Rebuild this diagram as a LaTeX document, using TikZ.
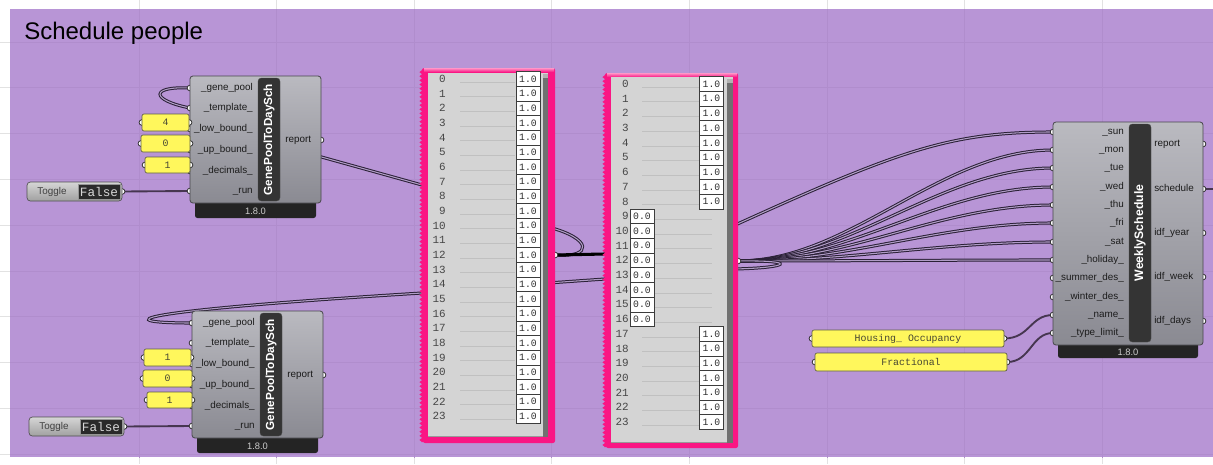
\documentclass[tikz,border=0pt]{standalone}
\usepackage{fontspec}
\setmainfont{Liberation Sans}
\newfontfamily\monof{Liberation Mono}
\usetikzlibrary{fit,decorations.pathmorphing}
\pgfdeclarelayer{back}
\pgfdeclarelayer{wirelayer}
\pgfsetlayers{back,wirelayer,main}
\definecolor{grpc}{RGB}{184,149,214}
\definecolor{gridw}{RGB}{226,226,226}
\definecolor{gridp}{RGB}{176,141,205}
\definecolor{comptop}{RGB}{186,186,192}
\definecolor{compbot}{RGB}{138,138,146}
\definecolor{compedge}{RGB}{72,72,76}
\definecolor{stripc}{RGB}{52,52,52}
\definecolor{verc}{RGB}{36,36,36}
\definecolor{vertc}{RGB}{205,205,205}
\definecolor{txtc}{RGB}{28,28,28}
\definecolor{yel}{RGB}{255,247,92}
\definecolor{yeledge}{RGB}{95,95,70}
\definecolor{ytxtc}{RGB}{70,70,50}
\definecolor{togtop}{RGB}{214,214,214}
\definecolor{togbot}{RGB}{160,160,160}
\definecolor{togedge}{RGB}{80,80,80}
\definecolor{togdark}{RGB}{42,42,42}
\definecolor{togvedge}{RGB}{150,150,150}
\definecolor{togtxtc}{RGB}{215,215,215}
\definecolor{pinkc}{RGB}{250,22,132}
\definecolor{pinklt}{RGB}{255,150,200}
\definecolor{pgray}{RGB}{212,212,212}
\definecolor{sbar}{RGB}{112,112,112}
\definecolor{valedge}{RGB}{60,60,60}
\definecolor{valtxt}{RGB}{45,45,45}
\definecolor{idxc}{RGB}{70,70,70}
\definecolor{sepc}{RGB}{192,192,192}
\definecolor{wirec}{RGB}{42,32,54}
\definecolor{wiremid}{RGB}{176,156,198}
\definecolor{swirec}{RGB}{70,54,80}
\tikzset{
  grip/.style={circle,draw=black!85,fill=white,line width=0.55pt,inner sep=0pt,minimum size=4.3pt},
  compbody/.style={draw=compedge,line width=0.6pt,rounded corners=2.2pt,top color=comptop,bottom color=compbot,inner sep=0pt},
  namestrip/.style={fill=stripc,draw=black!70,line width=0.3pt,rounded corners=2.5pt,inner sep=0pt},
  stripname/.style={rotate=90,text=white,inner sep=0pt,font=\bfseries\fontsize{8.8}{9}\selectfont},
  verbar/.style={fill=verc,rounded corners=1.8pt,inner sep=0pt},
  vertxt/.style={text=vertc,inner sep=0pt,font=\fontsize{7}{8}\selectfont},
  lbl/.style={text=txtc,inner sep=0pt,text height=5.4pt,text depth=1.6pt,font=\fontsize{7.4}{8}\selectfont},
  ybox/.style={fill=yel,draw=yeledge,line width=0.5pt,rounded corners=1.5pt,inner sep=0pt},
  ytxt/.style={text=ytxtc,inner sep=0pt,font=\monof\fontsize{7.4}{8}\selectfont},
  togbody/.style={top color=togtop,bottom color=togbot,draw=togedge,line width=0.5pt,rounded corners=2.5pt,inner sep=0pt},
  togval/.style={fill=togdark,draw=togvedge,line width=0.4pt,inner sep=0pt},
  togtxt/.style={text=togtxtc,inner sep=0pt,font=\monof\fontsize{9.5}{10}\selectfont},
  valbox/.style={fill=white,draw=valedge,line width=0.5pt,inner sep=0pt,minimum width=18pt,minimum height=11pt,text=valtxt,font=\monof\fontsize{7.3}{8}\selectfont},
  idx/.style={text=idxc,inner sep=0pt,text height=5.2pt,text depth=0pt,font=\monof\fontsize{8.2}{9}\selectfont},
  sepline/.style={draw=sepc,line width=0.4pt},
  dwire/.style={draw=wirec,line width=0.75pt,double=wiremid,double distance=0.8pt},
  swire/.style={draw=swirec,line width=1.4pt},
  bwire/.style={draw=black,line width=2.3pt},
  gridwhite/.style={draw=gridw,line width=0.5pt},
  gridpurple/.style={draw=gridp,line width=0.5pt},
  zz/.style={decoration={zigzag,segment length=3.1pt,amplitude=1.1pt}},
  zzedge/.style={draw=pinkc,line width=1.6pt,decorate,decoration={zigzag,segment length=3.1pt,amplitude=1.0pt}},
}
% GenePoolToDaySch component with its sliders and toggle
\newcommand\gpcomp[5]{%
\begin{scope}[shift={#2}]
  \node[verbar,fit={(195,197)(316,218)}] (#1ver) {};
  \node[vertxt] at (255.5,211) {1.8.0};
  \node[grip] (#1gpool) at (190,88) {};
  \node[grip] (#1tmpl) at (190,108) {};
  \node[grip] (#1low) at (190,129) {};
  \node[grip] (#1up) at (190,150) {};
  \node[grip] (#1dec) at (190,171) {};
  \node[grip] (#1run) at (190,191) {};
  \node[grip] (#1rep) at (321,140) {};
  \node[compbody,fit={(190,76)(321,203)}] (#1body) {};
  \node[namestrip,fit={(258,78)(280,201)}] (#1strip) {};
  \node[stripname] at (#1strip.center) {GenePoolToDaySch};
  \node[lbl,anchor=east] at (253,88) {\_gene\_pool};
  \node[lbl,anchor=east] at (253,108) {\_template\_};
  \node[lbl,anchor=east] at (253,129) {\_low\_bound\_};
  \node[lbl,anchor=east] at (253,150) {\_up\_bound\_};
  \node[lbl,anchor=east] at (253,171) {\_decimals\_};
  \node[lbl,anchor=east] at (253,191) {\_run};
  \node[lbl,anchor=west] at (285,140) {report};
  % sliders
  \node[grip] (#1s1l) at (142,122.5) {};
  \node[grip] (#1s1r) at (189,122.5) {};
  \node[ybox,fit={(142,114)(189,131)}] (#1s1) {};
  \node[ytxt] at (#1s1.center) {#3};
  \node[grip] (#1s2l) at (141,143.5) {};
  \node[grip] (#1s2r) at (190,143.5) {};
  \node[ybox,fit={(141,135)(190,152)}] (#1s2) {};
  \node[ytxt] at (#1s2.center) {#4};
  \node[grip] (#1s3l) at (145,165) {};
  \node[grip] (#1s3r) at (190,165) {};
  \node[ybox,fit={(145,157)(190,173)}] (#1s3) {};
  \node[ytxt] at (#1s3.center) {#5};
  % toggle
  \node[grip] (#1tgo) at (122,191.5) {};
  \node[togbody,fit={(27,182)(122,201)}] (#1tog) {};
  \node[lbl,text=black!75] at (52,191.5) {Toggle};
  \node[togval,fit={(78,184)(120,199)}] (#1tv) {};
  \node[togtxt] at (#1tv.center) {False};
\end{scope}}
\begin{document}
\begin{tikzpicture}[x=0.75pt,y=-0.75pt]
\useasboundingbox (0,0) rectangle (1213,464);
\begin{pgfonlayer}{back}
  \fill[white] (0,0) rectangle (1213,464);
  \foreach \k in {0,...,7} {\draw[gridwhite] ({139+137.6*\k},0) -- ({139+137.6*\k},464);}
  \foreach \k in {0,...,9} {\draw[gridwhite] (0,{42+45.8*\k}) -- (1213,{42+45.8*\k});}
  \fill[grpc] (10,9) rectangle (1213,457);
  \begin{scope}
    \clip (10,9) rectangle (1213,457);
    \foreach \k in {0,...,7} {\draw[gridpurple] ({139+137.6*\k},0) -- ({139+137.6*\k},464);}
    \foreach \k in {0,...,9} {\draw[gridpurple] (0,{42+45.8*\k}) -- (1213,{42+45.8*\k});}
  \end{scope}
\end{pgfonlayer}

\node[anchor=base west,inner sep=0pt,font=\fontsize{18}{20}\selectfont,text=black] (title) at (24,39.5) {Schedule people};

% components
\gpcomp{A}{(0,0)}{4}{0}{1}
\gpcomp{B}{(2,235)}{1}{0}{1}

% panel 1
\node[grip] (p1out) at (555,255) {};
\node[inner sep=0pt,fit={(420,68)(555,443)}] (p1) {};
\fill[pinkc,rounded corners=1.5pt] (423,68) rectangle (555,443);
\draw[zzedge] (422.5,69) -- (422.5,442);
\fill[top color=pinklt,bottom color=pinkc] (424,68) rectangle (554,72);
\fill[pgray] (428,73) rectangle (548,437);
\draw[draw=black!40,line width=0.5pt] (428,436.5) -- (548,436.5);
\fill[sbar] (543,74) rectangle (548,437);
\fill[black!30] (543,74) rectangle (548,78);
\foreach \i [evaluate=\i as \yy using 79+14.67*\i] in {0,...,23} {
  \draw[sepline] (460,\yy+3) -- (515,\yy+3);
  \node[idx,anchor=east] at (446,\yy) {\i};
  \node[valbox] (p1v\i) at (528,\yy) {1.0};
}
\coordinate (p1in1) at (422,185);
\coordinate (p1in2) at (422,293);

% panel 2
\node[grip] (p2out) at (738,261) {};
\node[inner sep=0pt,fit={(603,73)(738,448)}] (p2) {};
\fill[pinkc,rounded corners=1.5pt] (606,73) rectangle (738,448);
\draw[zzedge] (605.5,74) -- (605.5,447);
\fill[top color=pinklt,bottom color=pinkc] (607,73) rectangle (737,77);
\fill[pgray] (611,77) rectangle (733,443);
\draw[draw=black!40,line width=0.5pt] (611,442.5) -- (733,442.5);
\fill[sbar] (727,79) rectangle (733,443);
\fill[black!30] (727,79) rectangle (733,83);
\foreach \i [evaluate=\i as \yy using 84+14.7*\i] in {0,...,23} {
  \draw[sepline] (642,\yy+3) -- (712,\yy+3);
  \node[idx,anchor=east] at (629,\yy) {\i};
}
\foreach \i [evaluate=\i as \yy using 84+14.7*\i] in {0,...,8,17,18,...,23} {
  \node[valbox] (p2v\i) at (711.5,\yy) {1.0};
}
\foreach \i [evaluate=\i as \yy using 84+14.7*\i] in {9,...,16} {
  \node[valbox] (p2v\i) at (642,\yy) {0.0};
}
\coordinate (p2in1) at (605,254);
\coordinate (p2in2) at (605,279);

% WeeklySchedule
\node[verbar,fit={(1058,340)(1198,358)}] (wsver) {};
\node[vertxt] at (1128,352) {1.8.0};
\foreach \n/\y in {1/132,2/150,3/168,4/187,5/205,6/223,7/242,8/260,9/278,10/297,11/315,12/333} {
  \node[grip] (wsg\n) at (1053,\y) {};
}
\foreach \n/\y in {1/144,2/189,3/233,4/277,5/321} {
  \node[grip] (wso\n) at (1203,\y) {};
}
\node[compbody,fit={(1053,122)(1203,345)}] (ws) {};
\node[namestrip,fit={(1129,124)(1151,342)}] (wsstrip) {};
\node[stripname,font=\bfseries\fontsize{9.2}{10}\selectfont] at (wsstrip.center) {WeeklySchedule};
\foreach \y/\t in {132/\_sun,150/\_mon,168/\_tue,187/\_wed,205/\_thu,223/\_fri,242/\_sat,260/\_holiday\_,278/\_summer\_des\_,297/\_winter\_des\_,315/\_name\_,333/\_type\_limit\_} {
  \node[lbl,anchor=east] at (1124,\y) {\t};
}
\foreach \y/\t in {144/report,189/schedule,233/idf\_year,277/idf\_week,321/idf\_days} {
  \node[lbl,anchor=west] at (1154,\y) {\t};
}

% text panels
\node[grip] (hol) at (812,338.5) {};
\node[grip] (hor) at (1004,338.5) {};
\node[ybox,fit={(812,330)(1004,347)}] (hous) {};
\node[ytxt] at (hous.center) {Housing\_ Occupancy};
\node[grip] (frl) at (815,362) {};
\node[grip] (frr) at (1007,362) {};
\node[ybox,fit={(815,353)(1007,371)}] (frac) {};
\node[ytxt] at (frac.center) {Fractional};

% wires
\coordinate (Ahid) at (300,151);
\coordinate (p1hidA) at (548,227);
\coordinate (p1hidB) at (548,283);
\coordinate (p2hidA) at (733,226);
\coordinate (p2hidB) at (733,269);
\coordinate (offr) at (1213,189);
\begin{pgfonlayer}{wirelayer}
  \draw[dwire] (Agpool.center) .. controls (150,86) and (150,100) .. (Atmpl.center);
  \draw[dwire] (Ahid) -- (p1in1);
  \draw[swire] (Atgo.center) -- (Arun.center);
  \draw[dwire] (p1in2) .. controls (114,312) and (114,323) .. (Bgpool.center);
  \draw[swire] (Btgo.center) -- (Brun.center);
  \draw[dwire] (p1hidA) .. controls (592,238) and (594,258) .. (p1out.center);
  \draw[bwire] (p1out.center) -- (p2in1);
  \draw[dwire] (p1hidB) -- (p2in2);
  \draw[dwire] (p2hidA) .. controls (900,150) and (950,132) .. (wsg1.center);
  \foreach \n in {2,...,8} {
    \draw[dwire] (p2out.center) .. controls (850,261) and (940,0|-wsg\n) .. (wsg\n.center);
  }
  \draw[dwire] (p2hidB) .. controls (790,268) and (800,260) .. (p2out.center);
  \draw[swire] (hor.center) .. controls (1030,338.5) and (1030,315) .. (wsg11.center);
  \draw[swire] (frr.center) .. controls (1031,362) and (1031,333) .. (wsg12.center);
  \draw[swire] (wso2.center) -- (offr);
\end{pgfonlayer}
\end{tikzpicture}
\end{document}
